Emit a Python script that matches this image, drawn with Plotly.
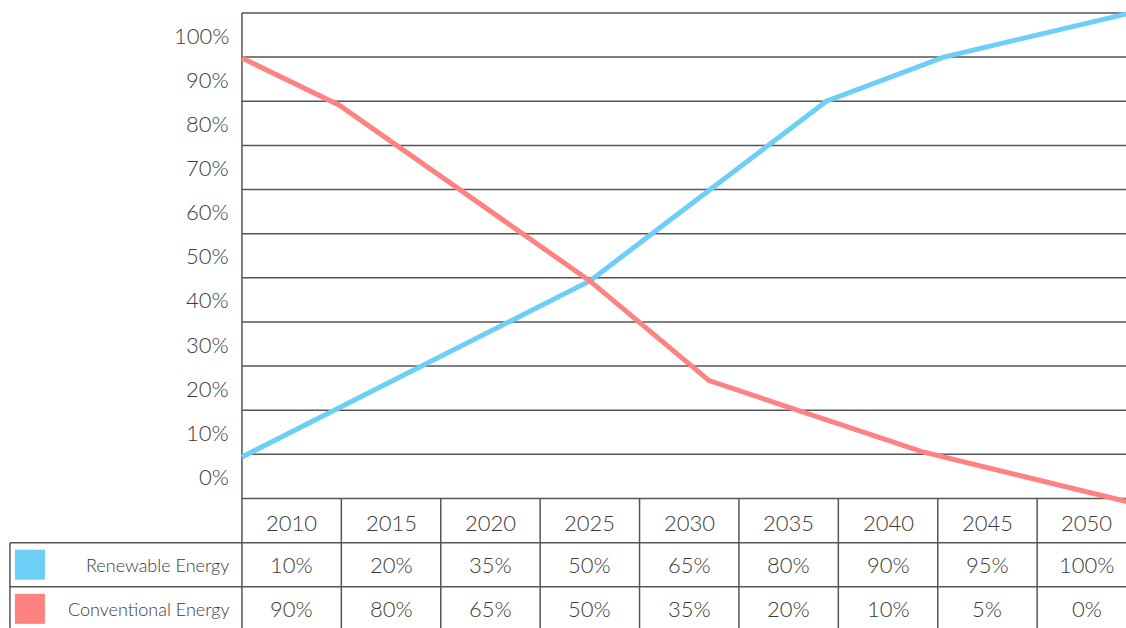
import plotly.graph_objects as go

# ---- data ----
years = ["2010", "2015", "2020", "2025", "2030", "2035", "2040", "2045", "2050"]
renewable = [10, 20, 35, 50, 65, 80, 90, 95, 100]
conventional = [90, 80, 65, 50, 35, 20, 10, 5, 0]
series_names = ["Renewable Energy", "Conventional Energy"]
tick_labels = ["0%", "10%", "20%", "30%", "40%", "50%", "60%", "70%", "80%", "90%", "100%"]

# line traces as drawn in the picture (x in years, y in the chart's grid units)
renew_line_x = [2007.5, 2025.0, 2036.9, 2042.8, 2052.0]
renew_line_y = [9.4, 49.3, 90.0, 100.0, 109.8]
conv_line_x = [2007.5, 2012.4, 2025.0, 2031.0, 2041.7, 2052.0]
conv_line_y = [99.8, 89.1, 49.3, 26.7, 10.6, -0.7]

BLUE = "#6dcff6"
RED = "#ff8282"
GRID = "#555555"
TEXT = "#3a3a3a"
FONT = "Lato"

fig = go.Figure()
fig.add_trace(go.Scatter(x=renew_line_x, y=renew_line_y, mode="lines",
                         line=dict(color=BLUE, width=5), hoverinfo="skip"))
fig.add_trace(go.Scatter(x=conv_line_x, y=conv_line_y, mode="lines",
                         line=dict(color=RED, width=5), hoverinfo="skip"))

ny = [int(y) for y in years]
left = ny[0] - 2.5
right = ny[-1] + 2.5
tbl_left = 1995.83

shapes = []
# horizontal grid lines
for k in range(12):
    shapes.append(dict(type="line", xref="x", yref="y", x0=left, x1=right, y0=10 * k, y1=10 * k,
                       line=dict(color=GRID, width=1.5), layer="below"))
# left axis line
shapes.append(dict(type="line", xref="x", yref="y", x0=left, x1=left, y0=110, y1=-32,
                   line=dict(color=GRID, width=1.5), layer="below"))
# table horizontal lines
for v in (-10, -20):
    shapes.append(dict(type="line", xref="x", yref="y", x0=tbl_left, x1=right, y0=v, y1=v,
                       line=dict(color=GRID, width=1.5), layer="below"))
# table vertical lines
for y in ny:
    shapes.append(dict(type="line", xref="x", yref="y", x0=y + 2.5, x1=y + 2.5, y0=0, y1=-32,
                       line=dict(color=GRID, width=1.5), layer="below"))
shapes.append(dict(type="line", xref="x", yref="y", x0=tbl_left, x1=tbl_left, y0=-10, y1=-32,
                   line=dict(color=GRID, width=1.5), layer="below"))
# legend squares
for i, c in enumerate([BLUE, RED]):
    cy = -15 - 10 * i
    shapes.append(dict(type="rect", xref="x", yref="y", x0=1996.08, x1=1997.59,
                       y0=cy - 3.4, y1=cy + 3.4, fillcolor=c, line=dict(width=0)))

ann = []
# y tick labels
for k, t in enumerate(tick_labels):
    ann.append(dict(x=2006.95, y=5 + 10 * k, xref="x", yref="y", text=t, showarrow=False,
                    xanchor="right", yanchor="middle",
                    font=dict(family=FONT, size=22, color=TEXT, weight=300)))
# y title
ann.append(dict(x=1993.7, y=53, xref="x", yref="y", text="Proportion", showarrow=False,
                textangle=-90, xanchor="center", yanchor="middle",
                font=dict(family=FONT, size=18, color=TEXT, weight=300)))
# table header
for y in years:
    ann.append(dict(x=int(y), y=-5.5, xref="x", yref="y", text=y, showarrow=False,
                    font=dict(family=FONT, size=22, color=TEXT, weight=300)))
# table rows
for r, (name, vals) in enumerate(zip(series_names, [renewable, conventional])):
    cy = -15 - 10 * r
    ann.append(dict(x=2006.95, y=cy, xref="x", yref="y", text=name, showarrow=False,
                    xanchor="right", font=dict(family=FONT, size=18, color=TEXT, weight=300)))
    for y, v in zip(years, vals):
        ann.append(dict(x=int(y), y=cy, xref="x", yref="y", text=f"{v}%", showarrow=False,
                        font=dict(family=FONT, size=22, color=TEXT, weight=300)))

fig.update_layout(
    width=1126, height=628, autosize=False,
    margin=dict(l=0, r=0, t=0, b=0),
    paper_bgcolor="white", plot_bgcolor="white",
    showlegend=False,
    xaxis=dict(range=[1995.33, 2051.97], visible=False, fixedrange=True),
    yaxis=dict(range=[-29.34, 112.94], visible=False, fixedrange=True),
    shapes=shapes, annotations=ann,
)

fig.write_html("out.html", config={"displayModeBar": False})
